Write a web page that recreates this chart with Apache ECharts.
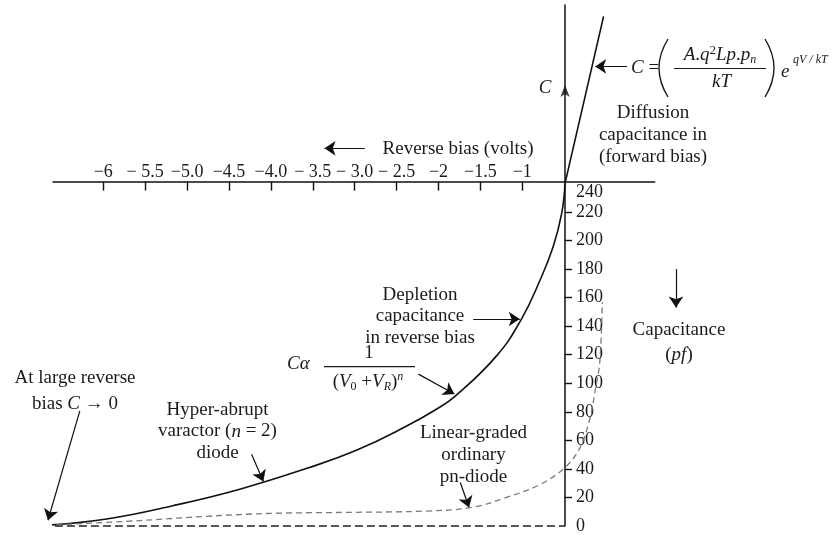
<!DOCTYPE html>
<html>
<head>
<meta charset="utf-8">
<script src="https://cdn.jsdelivr.net/npm/echarts@6/dist/echarts.min.js"></script>
<style>
  html, body { margin: 0; padding: 0; background: #fff; }
  #chart { width: 835px; height: 535px; }
</style>
</head>
<body>
<div id="chart"></div>
<script>
// Bias axis (volts) – ticks and their printed labels
const biasTicks = [-6, -5.5, -5, -4.5, -4, -3.5, -3, -2.5, -2, -1.5, -1];
const biasTickLabels = ['−6', '− 5.5', '−5.0', '−4.5', '−4.0', '− 3.5', '− 3.0', '− 2.5', '−2', '−1.5', '−1'];

// Capacitance axis (pF)
const capTicks = [20, 40, 60, 80, 100, 120, 140, 160, 180, 200, 220];
const capLabels = [0, 20, 40, 60, 80, 100, 120, 140, 160, 180, 200, 220, 240];

// Hyper-abrupt varactor (n = 2), depletion capacitance in reverse bias
const hyperV = [-6.68, -5.96, -5.17, -4.37, -3.57, -2.98, -2.38, -2.02, -1.80, -1.31, -1.01, -0.79, -0.63, -0.53, -0.49];
const hyperC = [0.5, 4.9, 14.2, 25.8, 40.4, 53, 70, 82, 91, 119, 145, 172, 196, 219, 240];

// Diffusion capacitance in forward bias
const forwardV = [-0.49, -0.03];
const forwardC = [240, 357];

// Linear-graded ordinary pn-diode
const gradedV = [-6.68, -5.56, -4.77, -3.97, -2.98, -2.18, -1.62, -1.19, -0.79, -0.49, -0.31, -0.19, -0.13, -0.075, -0.045];
const gradedC = [0.5, 3.8, 6.8, 8.9, 9.6, 10.4, 12.8, 20, 29, 41, 55, 76, 95, 115, 157];

// C -> 0 baseline
const baseV = [-6.72, -0.49];
const baseC = [0, 0];

// Axis ranges and where the two axes cross
const vMin = -6.6, vMax = 0.58, vCross = -0.49;
const cMin = 0, cMax = 365, cCross = 240;

// Annotation pointers, [tail, head] in (volts, pF)
const pointers = [
  [[-6.28, 80.6], [-6.66, 4.0]],
  [[-4.23, 50.2], [-4.09, 31.1]],
  [[-1.585, 145], [-1.03, 145]],
  [[-2.24, 106.4], [-1.81, 92.5]],
  [[-1.74, 30.5], [-1.635, 13]],
  [[0.25, 322], [-0.13, 322]],
  [[0.834, 180], [0.834, 153]],
  [[-2.88, 264.6], [-3.36, 264.6]]
];

const pairs = (xs, ys) => xs.map((x, i) => [x, ys[i]]);

const FONT = '"Liberation Serif", "Times New Roman", serif';
const INK = '#1b1b1b';
const LINE = '#111';

const W = 835, H = 535;
const gridLeft = 53, gridRight = 180.3, gridTop = 5, gridBottom = 6.3;
const plotW = W - gridLeft - gridRight;
const plotH = H - gridTop - gridBottom;
const xAxisOffset = -plotH * (cCross - cMin) / (cMax - cMin);
const yAxisOffset = -plotW * (vCross - vMin) / (vMax - vMin);

function richSet(lh) {
  return {
    r:    { fontFamily: FONT, fontSize: 19, fill: INK, lineHeight: lh },
    i:    { fontFamily: FONT, fontSize: 19, fontStyle: 'italic', fill: INK, lineHeight: lh },
    sup:  { fontFamily: FONT, fontSize: 13, fill: INK, verticalAlign: 'top', lineHeight: 12 },
    supi: { fontFamily: FONT, fontSize: 12, fontStyle: 'italic', fill: INK, verticalAlign: 'top', lineHeight: 12 },
    sub:  { fontFamily: FONT, fontSize: 12, fill: INK, verticalAlign: 'bottom', lineHeight: 12 },
    subi: { fontFamily: FONT, fontSize: 12, fontStyle: 'italic', fill: INK, verticalAlign: 'bottom', lineHeight: 12 }
  };
}

function txt(x, y, text, extra) {
  return {
    type: 'text', x: x, y: y, silent: true,
    style: Object.assign({
      text: text, fill: INK, fontFamily: FONT, fontSize: 19,
      align: 'center', verticalAlign: 'middle', lineHeight: 21.5
    }, extra || {})
  };
}

function rule(x1, x2, y) {
  return { type: 'line', silent: true, shape: { x1: x1, y1: y, x2: x2, y2: y },
           style: { stroke: INK, lineWidth: 1.2 } };
}

function paren(x, y1, y2, bulge) {
  return { type: 'bezierCurve', silent: true,
           shape: { x1: x, y1: y1, x2: x, y2: y2, cpx1: x + bulge, cpy1: (y1 + y2) / 2 },
           style: { stroke: INK, lineWidth: 1.4, fill: 'none' } };
}

const chart = echarts.init(document.getElementById('chart'), null, { renderer: 'canvas', width: W, height: H });

chart.setOption({
  animation: false,
  backgroundColor: '#fff',
  grid: { left: gridLeft, right: gridRight, top: gridTop, bottom: gridBottom, containLabel: false },
  xAxis: {
    type: 'value', min: vMin, max: vMax, position: 'bottom', offset: xAxisOffset,
    axisLine: { show: true, onZero: false, lineStyle: { color: LINE, width: 1.5 } },
    axisTick: { show: true, customValues: biasTicks, inside: false, length: 9, lineStyle: { color: LINE, width: 1.4 } },
    axisLabel: {
      show: true, customValues: biasTicks, inside: true, margin: 0,
      color: INK, fontFamily: FONT, fontSize: 18,
      formatter: v => {
        const k = biasTicks.findIndex(t => Math.abs(t - v) < 1e-6);
        return k >= 0 ? biasTickLabels[k] : '';
      }
    },
    splitLine: { show: false }
  },
  yAxis: {
    type: 'value', min: cMin, max: cMax, position: 'left', offset: yAxisOffset,
    axisLine: { show: true, onZero: false, lineStyle: { color: LINE, width: 1.5 } },
    axisTick: { show: true, customValues: capTicks, inside: true, length: 7, lineStyle: { color: LINE, width: 1.4 } },
    axisLabel: {
      show: true, customValues: capLabels, inside: true, margin: 11, hideOverlap: false,
      color: INK, fontFamily: FONT, fontSize: 18,
      formatter: v => (v === cCross ? '{low|' + v + '}' : String(v)),
      rich: { low: { fontFamily: FONT, fontSize: 18, color: INK, padding: [18, 0, 0, 0] } }
    },
    splitLine: { show: false }
  },
  series: [
    {
      name: 'Hyper-abrupt varactor', type: 'line', data: pairs(hyperV, hyperC),
      smooth: 0.45, symbol: 'none', clip: false,
      lineStyle: { color: LINE, width: 1.6 }
    },
    {
      name: 'Diffusion capacitance', type: 'line', data: pairs(forwardV, forwardC),
      symbol: 'none', clip: false,
      lineStyle: { color: LINE, width: 1.6 }
    },
    {
      name: 'Linear-graded pn-diode', type: 'line', data: pairs(gradedV, gradedC),
      smooth: 0.35, symbol: 'none', clip: false,
      lineStyle: { color: '#7a7a7a', width: 1.3, type: [6, 4] }
    },
    {
      name: 'C to 0', type: 'line', data: pairs(baseV, baseC),
      symbol: 'none', clip: false,
      lineStyle: { color: '#222', width: 1.4, type: [8, 4] }
    },
    {
      name: 'pointers', type: 'lines', coordinateSystem: 'cartesian2d',
      xAxisIndex: 0, yAxisIndex: 0, clip: false, silent: true,
      symbol: ['none', 'arrow'], symbolSize: [7, 11],
      lineStyle: { color: LINE, width: 1.2, opacity: 1, curveness: 0 },
      data: pointers.map(p => ({ coords: [p[0], p[1]] }))
    },
    {
      name: 'C axis arrow', type: 'scatter', data: [[vCross, 309]],
      symbol: 'arrow', symbolSize: [7, 12], clip: false, silent: true,
      itemStyle: { color: LINE }
    }
  ],
  graphic: [
    txt(458, 149, 'Reverse bias (volts)'),
    txt(545, 88, 'C', { fontStyle: 'italic' }),
    txt(653, 135, 'Diffusion\ncapacitance in\n(forward bias)', { lineHeight: 21.7 }),

    // C = (A.q²Lp.pn / kT) e^(qV/kT)
    txt(631, 68, '{i|C}{r| =}', { align: 'left', rich: richSet(22) }),
    paren(668, 39, 97, -18),
    paren(765, 39, 97, 18),
    txt(720, 55, '{i|A}{r|.}{i|q}{sup|2}{i|Lp}{r|.}{i|p}{subi|n}', { rich: richSet(22) }),
    rule(674, 766, 68.5),
    txt(721.5, 82, 'kT', { fontStyle: 'italic' }),
    txt(781, 72, 'e', { align: 'left', fontStyle: 'italic' }),
    txt(793, 60, 'qV / kT', { align: 'left', fontStyle: 'italic', fontSize: 12 }),

    txt(679, 342.5, '{r|Capacitance}\n{r|(}{i|pf}{r|)}', { rich: richSet(25) }),
    txt(75, 391, '{r|At large reverse}\n{r|bias }{i|C}{r| → 0}', { rich: richSet(25.5) }),
    txt(217.5, 431.5, '{r|Hyper-abrupt}\n{r|varactor (}{i|n}{r| = 2)}\n{r|diode}', { rich: richSet(21.5) }),
    txt(420, 316.5, 'Depletion\ncapacitance\nin reverse bias'),

    // C ∝ 1 / (V0 + VR)^n
    txt(287, 364, 'Cα', { align: 'left', fontStyle: 'italic' }),
    txt(369, 353, '1'),
    rule(324, 415, 366.7),
    txt(368, 382, '{r|(}{i|V}{sub|0}{r| +}{i|V}{subi|R}{r|)}{supi|n}', { rich: richSet(22) }),

    txt(473.5, 455, 'Linear-graded\nordinary\npn-diode', { lineHeight: 22 })
  ]
});
</script>
</body>
</html>
